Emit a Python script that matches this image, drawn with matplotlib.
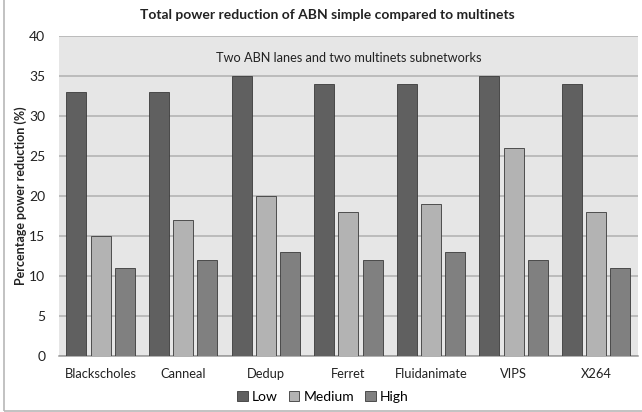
import matplotlib
matplotlib.use("Agg")
import matplotlib.pyplot as plt
import numpy as np
from matplotlib.patches import Rectangle

plt.rcParams['font.family'] = ['Lato', 'DejaVu Sans']

categories = ["Blackscholes", "Canneal", "Dedup", "Ferret", "Fluidanimate", "VIPS", "X264"]
low = [33, 33, 35, 34, 34, 35, 34]
medium = [15, 17, 20, 18, 19, 26, 18]
high = [11, 12, 13, 12, 13, 12, 11]
series_names = ["Low", "Medium", "High"]
colors = ["#606060", "#b3b3b3", "#808080"]

W, H = 642, 412
fig = plt.figure(figsize=(W / 100, H / 100), dpi=100)

# figure border (chart area outline)
fig.patches.append(Rectangle((4 / W, 1 / H), 1.0, 1.0, transform=fig.transFigure,
                             fill=False, edgecolor="#b8b8b8", linewidth=1.2))

ax_left, ax_right = 59.3, 637.5
ax_top, ax_bottom = 36, 356
ax = fig.add_axes([ax_left / W, 1 - ax_bottom / H, (ax_right - ax_left) / W, (ax_bottom - ax_top) / H])
ax.set_facecolor("#e6e6e6")

x = np.arange(len(categories))
bw = 0.242
step = 0.292
for i, (vals, c, name) in enumerate(zip([low, medium, high], colors, series_names)):
    ax.bar(x + (i - 1) * step, vals, width=bw, color=c, edgecolor="#3a3a3a",
           linewidth=0.6, label=name, zorder=3)

ax.set_xlim(-0.5, len(categories) - 0.5)
ax.set_ylim(0, 40)
ax.set_yticks(range(0, 41, 5))
ax.yaxis.grid(True, color="#b0b0b0", linewidth=1.1, zorder=0)
ax.set_axisbelow(True)
for s in ["top", "right", "left"]:
    ax.spines[s].set_visible(False)
ax.spines["bottom"].set_color("#9a9a9a")
ax.spines["bottom"].set_linewidth(1.1)
ax.tick_params(axis="both", length=0, colors="#222222")
ax.tick_params(axis="x", pad=9, labelsize=9.3)
ax.tick_params(axis="y", pad=10, labelsize=10)
ax.set_xticks(x)
ax.set_xticklabels(categories)

fig.text(21 / W, 1 - 196 / H, "Percentage power reduction (%)", rotation=90,
         ha="center", va="center", fontsize=9, fontweight="bold", color="#222222")
fig.text(327.5 / W, 1 - 15 / H, "Total power reduction of ABN simple compared to multinets",
         ha="center", va="center", fontsize=10, fontweight="bold", color="#222222")
ax.text(0.5, 37.2, "Two ABN lanes and two multinets subnetworks",
        transform=ax.get_yaxis_transform(), ha="center", va="center",
        fontsize=9.2, color="#222222")

leg = fig.legend(loc="center", bbox_to_anchor=(323 / W, 1 - 397 / H), ncol=3,
                 frameon=False, fontsize=10, handlelength=0.75, handleheight=0.75,
                 handletextpad=0.3, columnspacing=0.8)

fig.savefig("out.png", dpi=100)
